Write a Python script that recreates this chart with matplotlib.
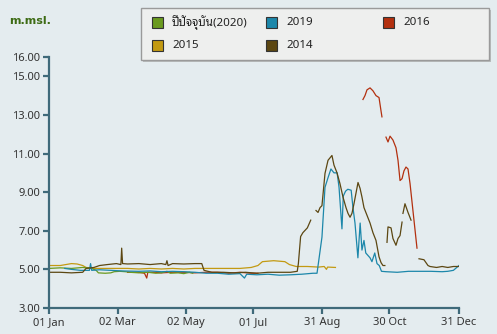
import numpy as np
import matplotlib
matplotlib.use("Agg")
import matplotlib.pyplot as plt
from matplotlib.patches import Rectangle
from matplotlib import font_manager

NAN = np.nan

# day of year (0 = 01 Jan) and water level, m.msl.
days_2020 = [0, 10, 20, 30, 38, 42, 44, 50, 55, 58, 63, 68, 72, 80, 88, 95, 100, 105, 108, 115, 120, 125, 128]
level_2020 = [5.05, 5.08, 5.05, 5.1, 5.05, 4.95, 4.82, 4.8, 4.82, 4.88, 4.9, 4.88, 4.85, 4.82, 4.85, 4.8, 4.82,
              4.9, 4.8, 4.82, 4.78, 4.85, 4.8]

days_2019 = [14, 20, 28, 36, 37, 38, 45, 55, 65, 80, 90, 100, 110, 120, 130, 140, 150, 160, 170, 174, 176, 185,
             195, 205, 215, 225, 235, 238.6, 243, 245.7, 248.4, 251, 253.7, 256.5, 258.2, 260.8, 262, 264, 266,
             269, 270.6, 272.4, 275, 277, 278.6, 280.4, 282, 285.8, 287.5, 290, 292, 294, 296, 300, 310, 320, 330,
             340, 350, 355, 360, 363, 365]
level_2019 = [5.05, 5.0, 4.95, 4.95, 5.3, 4.95, 4.98, 4.95, 4.92, 4.9, 4.92, 4.88, 4.9, 4.88, 4.85, 4.8, 4.8,
              4.75, 4.78, 4.55, 4.75, 4.72, 4.75, 4.7, 4.72, 4.75, 4.8, 4.8, 6.67, 9.25, 9.75, 10.2, 10.0, 10.0,
              9.25, 7.1, 8.8, 9.05, 9.15, 9.1, 8.2, 7.4, 5.6, 7.4, 6.0, 6.5, 5.85, 5.6, 5.4, 5.85, 5.3, 5.2, 4.9,
              4.88, 4.85, 4.9, 4.9, 4.9, 4.88, 4.9, 4.95, 5.1, 5.2]

days_2016 = [70, 80, 85, 87, 88, 95, 100, 110, 120, 130, 140, 150, 160, 170, 180, 186, 187,
             279.5, 281.3, 283.1, 285.8, 288.4, 291.1, 293.8, 295.6, 296.4, 298,
             300, 301.8, 303.6, 306.2, 308.9, 310.7, 312.5, 314.3, 316, 317.8, 319.6, 321.4, 327.6]
level_2016 = [4.85, 4.85, 4.8, 4.55, 4.85, 4.85, 4.82, 4.85, 4.85, 4.82, 4.85, 4.85, 4.8, 4.85, 4.8, 4.8, NAN,
              13.8, 14.0, 14.3, 14.4, 14.25, 14.0, 13.9, 13.2, 12.9, NAN,
              11.85, 11.6, 11.9, 11.7, 11.3, 10.65, 9.6, 9.7, 10.1, 10.3, 10.2, 9.45, 6.1]

days_2015 = [0, 10, 15, 20, 25, 30, 33, 40, 50, 60, 70, 80, 90, 100, 110, 120, 130, 140, 150, 160, 170, 180,
             186, 190, 200, 210, 214, 220, 230, 240, 245, 247, 248, 255]
level_2015 = [5.2, 5.2, 5.25, 5.3, 5.28, 5.2, 5.1, 5.05, 5.05, 5.05, 5.05, 5.02, 5.05, 5.02, 5.05, 5.02, 5.05,
              5.05, 5.05, 5.05, 5.05, 5.1, 5.2, 5.4, 5.45, 5.4, 5.25, 5.15, 5.15, 5.12, 5.15, 5.0, 5.12, 5.1]

days_2014 = [0, 10, 20, 30, 33, 40, 45, 52, 60, 64, 64.7, 65.5, 70, 80, 90, 100, 104, 105, 106, 110, 120, 130,
             136, 138, 145, 155, 165, 175, 185, 195, 205, 215, 221, 222, 224, 226, 230, 233, 235,
             237.7, 239.5, 241.3, 243, 245.7, 248.4, 251.9, 253.7, 256.4, 259, 261.7, 264.4, 266.2, 268, 269.7,
             271.5, 273.3, 275.1, 276.9, 278.6, 280.4, 283.1, 285.8, 288.4, 291.1, 293.8, 295.6, 297.3, 299, 300,
             300.9, 301.8, 304.5, 306.2, 308.9, 310.7, 312.5, 314.3, 314.7,
             315.1, 316.9, 319.6, 322.3, 325,
             329.4, 333.8, 337.4, 339.2, 345, 350, 355, 360, 365]
level_2014 = [4.85, 4.85, 4.82, 4.85, 5.05, 5.1, 5.2, 5.25, 5.3, 5.25, 6.1, 5.3, 5.28, 5.3, 5.25, 5.3, 5.25, 5.45,
              5.2, 5.3, 5.28, 5.3, 5.3, 4.95, 4.85, 4.85, 4.82, 4.85, 4.8, 4.85, 4.85, 4.85, 4.9, 5.3, 6.7, 6.9,
              7.15, 7.55, NAN,
              8.05, 7.95, 8.2, 8.3, 9.97, 10.65, 10.9, 10.4, 10.0, 9.45, 8.75, 8.2, 7.9, 7.7, 7.9,
              8.4, 8.95, 9.5, 9.2, 8.75, 8.2, 7.8, 7.4, 6.9, 6.5, 5.65, 5.35, 5.2, 5.2, NAN,
              6.4, 7.2, 7.15, 6.6, 6.25, 6.6, 6.75, 7.45, NAN,
              7.9, 8.4, 7.95, 7.55, NAN,
              5.55, 5.5, 5.2, 5.15, 5.1, 5.15, 5.1, 5.15, 5.15]

tick_days = [0, 61, 122, 182, 243, 303, 365]
tick_labels = ["01 Jan", "02 Mar", "02 May", "01 Jul", "31 Aug", "30 Oct", "31 Dec"]
y_ticks = [3, 5, 7, 9, 11, 13, 15, 16]

series = [
    ("ปีปัจจุบัน(2020)", days_2020, level_2020, "#6a9a1e"),
    ("2015", days_2015, level_2015, "#c39a12"),
    ("2019", days_2019, level_2019, "#1c87aa"),
    ("2014", days_2014, level_2014, "#5c4712"),
    ("2016", days_2016, level_2016, "#b3300f"),
]

bg = "#e4ecef"
axis_col = "#3f6a7a"
installed = {f.name for f in font_manager.fontManager.ttflist}
thai = [n for n in ("Noto Sans Thai Looped", "IBM Plex Sans Thai Looped", "Anuphan") if n in installed][:1]
latin = ["Noto Sans", "DejaVu Sans"]
fam = latin[:1] + thai + latin[1:]

fig = plt.figure(figsize=(4.97, 3.34), dpi=100, facecolor=bg)
ax = fig.add_axes([49 / 497, 1 - 308 / 334, 410 / 497, 251 / 334])
ax.set_facecolor(bg)

# draw in back-to-front order
for name, d, v, c in [series[i] for i in (1, 4, 0, 2, 3)]:
    ax.plot(d, v, color=c, lw=0.9)

ax.set_xlim(0, 365)
ax.set_ylim(3, 16)
ax.set_xticks(tick_days)
ax.set_xticklabels(tick_labels)
ax.set_yticks(y_ticks)
ax.set_yticklabels([f"{t:.2f}" for t in y_ticks])
for s in ("top", "right"):
    ax.spines[s].set_visible(False)
for s in ("left", "bottom"):
    ax.spines[s].set_color(axis_col)
    ax.spines[s].set_linewidth(1.6)
ax.tick_params(axis="both", colors=axis_col, width=1.6, labelcolor="#333333", labelsize=8)
ax.tick_params(axis="x", length=4, pad=2.5)
ax.tick_params(axis="y", length=4, pad=2.5)
for lab in ax.get_xticklabels() + ax.get_yticklabels():
    lab.set_family(latin)

fig.text(9 / 497, 1 - 21 / 334, "m.msl.", color="#3d6b14", fontsize=8, fontweight="bold",
         family=["DejaVu Sans"], va="center", ha="left")

# legend box drawn by hand to match the fixed column grid
W, H = 497, 334
fig.patches.append(Rectangle(((141 + 2) / W, 1 - (60 + 2) / H), 348 / W, 52 / H, transform=fig.transFigure,
                             facecolor="#b8bcbc", edgecolor="none", zorder=5))
fig.patches.append(Rectangle((141 / W, 1 - 60 / H), 348 / W, 52 / H, transform=fig.transFigure,
                             facecolor="#eeefee", edgecolor="#9a9a9a", lw=1, zorder=6))
cols_x = [151.5, 265.5, 382.5]
rows_y = [22.8, 45]
slots = [(0, 0), (0, 1), (1, 0), (1, 1), (2, 0)]
for (name, d, v, c), (ci, ri) in zip(series, slots):
    x0, yc = cols_x[ci], rows_y[ri]
    fig.patches.append(Rectangle((x0 / W, 1 - (yc + 5.5) / H), 11 / W, 11 / H, transform=fig.transFigure,
                                 facecolor=c, edgecolor="#333333", lw=0.8, zorder=7))
    fig.text((x0 + 20.5) / W, 1 - yc / H, name, fontsize=8.3, color="#222222", family=fam,
             va="center", ha="left", zorder=8)

fig.savefig("out.png", dpi=100, facecolor=bg)
